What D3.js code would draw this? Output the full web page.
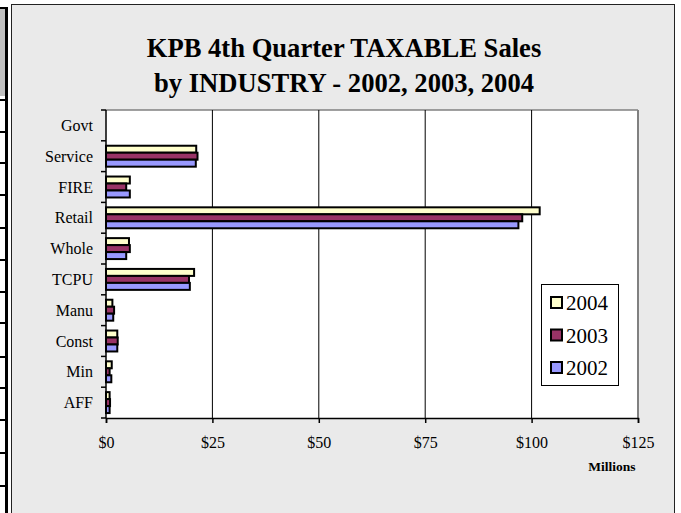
<!DOCTYPE html>
<html>
<head>
<meta charset="utf-8">
<script src="https://cdn.jsdelivr.net/npm/d3@7"></script>
<style>
  html, body { margin: 0; padding: 0; background: #ffffff; }
  svg { display: block; }
</style>
</head>
<body>
<svg id="chart" width="681" height="513"></svg>
<script>
// ---- data ----
const categories = ["Govt", "Service", "FIRE", "Retail", "Whole", "TCPU", "Manu", "Const", "Min", "AFF"];
const seriesNames = ["2004", "2003", "2002"];
const values2004 = [0, 21.2, 5.6, 101.9, 5.4, 20.7, 1.5, 2.65, 1.35, 0.85];
const values2003 = [0, 21.5, 4.75, 97.8, 5.6, 19.5, 1.9, 2.75, 0.85, 0.95];
const values2002 = [0, 21.1, 5.6, 96.9, 4.75, 19.7, 1.7, 2.65, 1.25, 0.85];
const xTicks = [0, 25, 50, 75, 100, 125];
const xTickLabels = ["$0", "$25", "$50", "$75", "$100", "$125"];
const titleLines = ["KPB 4th Quarter TAXABLE Sales", "by INDUSTRY - 2002, 2003, 2004"];
const colors = ["#FFFFCC", "#993366", "#9999FF"];

const seriesValues = [values2004, values2003, values2002];
const svg = d3.select("#chart");
const serif = "'Liberation Serif', 'Times New Roman', serif";

// ---- spreadsheet fragment at left edge ----
svg.append("rect").attr("x", 0).attr("y", 8).attr("width", 5).attr("height", 88).attr("fill", "#c0c0c0");
const rowLines = [8, 100, 132, 163, 195, 228, 260, 292, 323, 357, 388, 420, 453, 486];
svg.selectAll("line.row").data(rowLines).enter().append("line")
  .attr("x1", 0).attr("x2", 6).attr("y1", d => d).attr("y2", d => d)
  .attr("stroke", "#000").attr("stroke-width", 2);
svg.append("line").attr("x1", 6.5).attr("x2", 6.5).attr("y1", 7).attr("y2", 513)
  .attr("stroke", "#000").attr("stroke-width", 3);

// ---- chart area ----
svg.append("rect").attr("x", 11.5).attr("y", 4.5).attr("width", 663).attr("height", 520)
  .attr("fill", "#eaeaea").attr("stroke", "#222").attr("stroke-width", 1);

// ---- title ----
svg.append("text").attr("x", 344).attr("y", 57)
  .attr("text-anchor", "middle").attr("font-family", serif).attr("font-weight", "bold")
  .attr("font-size", 26.6).attr("fill", "#000")
  .selectAll("tspan").data(titleLines).enter().append("tspan")
  .attr("x", 344).attr("dy", (d, i) => i === 0 ? 0 : 35).text(d => d);

// ---- scales ----
const plot = { left: 106, right: 638, top: 110, bottom: 418 };
const x = d3.scaleLinear().domain([0, 125]).range([plot.left, plot.right]);
const y = d3.scaleBand().domain(categories).range([plot.top, plot.bottom]).paddingInner(0).paddingOuter(0);
const groupFrac = 0.68;
const sub = d3.scaleBand().domain(seriesNames).range([0, y.bandwidth() * groupFrac]);

// plot area
svg.append("rect").attr("x", plot.left).attr("y", plot.top)
  .attr("width", plot.right - plot.left).attr("height", plot.bottom - plot.top)
  .attr("fill", "#ffffff");
// top border & right border
svg.append("line").attr("x1", plot.left).attr("x2", plot.right).attr("y1", plot.top).attr("y2", plot.top)
  .attr("stroke", "#808080").attr("stroke-width", 1.5);
svg.append("line").attr("x1", plot.right).attr("x2", plot.right).attr("y1", plot.top).attr("y2", plot.bottom)
  .attr("stroke", "#808080").attr("stroke-width", 2);

// gridlines
svg.selectAll("line.grid").data(xTicks.slice(1, -1)).enter().append("line")
  .attr("x1", d => x(d)).attr("x2", d => x(d))
  .attr("y1", plot.top).attr("y2", plot.bottom)
  .attr("stroke", "#000").attr("stroke-width", 1);

// bars
const groupOffset = (y.bandwidth() - y.bandwidth() * groupFrac) / 2;
seriesNames.forEach((s, si) => {
  svg.append("g").selectAll("rect").data(categories).enter().append("rect")
    .attr("x", x(0))
    .attr("y", c => y(c) + groupOffset + sub(s))
    .attr("width", (c, i) => Math.max(0, x(seriesValues[si][i]) - x(0)))
    .attr("height", sub.bandwidth())
    .attr("fill", colors[si])
    .attr("stroke", "#000")
    .attr("stroke-width", 2)
    .attr("display", (c, i) => seriesValues[si][i] > 0 ? null : "none");
});

// y axis
const yAxis = svg.append("g");
yAxis.append("line").attr("x1", plot.left).attr("x2", plot.left).attr("y1", plot.top).attr("y2", plot.bottom)
  .attr("stroke", "#000").attr("stroke-width", 1.5);
const boundaries = categories.map(c => y(c)).concat([plot.bottom]);
yAxis.selectAll("line.tick").data(boundaries).enter().append("line")
  .attr("x1", plot.left - 5).attr("x2", plot.left).attr("y1", d => d).attr("y2", d => d)
  .attr("stroke", "#000").attr("stroke-width", 1.5);
yAxis.selectAll("text").data(categories).enter().append("text")
  .attr("x", 93).attr("y", c => y(c) + y.bandwidth() / 2)
  .attr("dy", "0.35em").attr("text-anchor", "end")
  .attr("font-family", serif).attr("font-size", 16).attr("fill", "#000")
  .text(c => c);

// x axis
const xAxis = d3.axisBottom(x).tickValues(xTicks).tickSize(5).tickFormat((d, i) => xTickLabels[i]);
const gx = svg.append("g").attr("transform", `translate(0,${plot.bottom})`).call(xAxis);
gx.select(".domain").attr("stroke", "#000").attr("stroke-width", 1.5);
gx.selectAll(".tick line").attr("stroke", "#000").attr("stroke-width", 1.5);
gx.selectAll(".tick text").attr("font-family", serif).attr("font-size", 16).attr("fill", "#000")
  .attr("y", 19).attr("dy", "0.71em");

svg.append("text").attr("x", 612).attr("y", 471).attr("text-anchor", "middle")
  .attr("font-family", serif).attr("font-weight", "bold").attr("font-size", 13.5).text("Millions");

// legend
const lg = svg.append("g");
lg.append("rect").attr("x", 541.5).attr("y", 284.5).attr("width", 77).attr("height", 101)
  .attr("fill", "#fff").attr("stroke", "#000").attr("stroke-width", 1);
const legendY = d3.scalePoint().domain(seriesNames).range([303, 368]);
seriesNames.forEach((s, si) => {
  lg.append("rect").attr("x", 551).attr("y", legendY(s) - 6).attr("width", 11).attr("height", 11)
    .attr("fill", colors[si]).attr("stroke", "#000").attr("stroke-width", 2);
  lg.append("text").attr("x", 566).attr("y", legendY(s)).attr("dy", "0.35em")
    .attr("font-family", serif).attr("font-size", 21).attr("fill", "#000").text(s);
});
</script>
</body>
</html>
